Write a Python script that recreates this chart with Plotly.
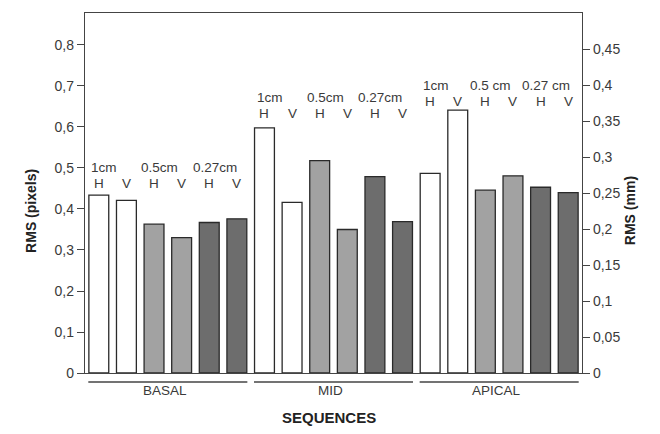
import plotly.graph_objects as go

groups = ["BASAL", "MID", "APICAL"]
size_labels = [["1cm", "0.5cm", "0.27cm"],
               ["1cm", "0.5cm", "0.27cm"],
               ["1cm", "0.5 cm", "0.27 cm"]]
directions = ["H", "V"]
rms_pixels = [0.434, 0.421, 0.363, 0.330, 0.367, 0.376,
              0.598, 0.416, 0.518, 0.350, 0.479, 0.369,
              0.487, 0.641, 0.446, 0.481, 0.453, 0.440]
left_ticks = [0, 0.1, 0.2, 0.3, 0.4, 0.5, 0.6, 0.7, 0.8]
left_ticktext = ["0", "0,1", "0,2", "0,3", "0,4", "0,5", "0,6", "0,7", "0,8"]
right_ticks = [0, 0.05, 0.1, 0.15, 0.2, 0.25, 0.3, 0.35, 0.4, 0.45]
right_ticktext = ["0", "0,05", "0,1", "0,15", "0,2", "0,25", "0,3", "0,35", "0,4", "0,45"]

fills = ["#ffffff", "#a2a2a2", "#6d6d6d"]
FONT = "Liberation Sans, Arial, sans-serif"
TXT = "#3a3a3a"

xs = list(range(len(rms_pixels)))
colors = [fills[(i % 6) // 2] for i in xs]

fig = go.Figure()
fig.add_trace(go.Bar(x=xs, y=rms_pixels, marker=dict(color=colors, line=dict(color="#2a2a2a", width=1.3)),
                     width=0.72, showlegend=False))
fig.add_trace(go.Scatter(x=[0], y=[0], yaxis="y2", mode="markers", marker=dict(opacity=0),
                         showlegend=False, hoverinfo="skip"))

annotations = []
shapes = []
label_levels = [0.461, 0.632, 0.661]
for g, name in enumerate(groups):
    base = g * 6
    lvl = label_levels[g]
    for p in range(3):
        hi = base + p * 2
        annotations.append(dict(x=hi + 0.2, y=lvl + 0.04, xref="x", yref="y", text=size_labels[g][p],
                                showarrow=False, font=dict(size=13.5, color=TXT, family=FONT)))
        for d in range(2):
            annotations.append(dict(x=hi + d, y=lvl, xref="x", yref="y", text=directions[d],
                                    showarrow=False, font=dict(size=13.5, color=TXT, family=FONT)))
    shapes.append(dict(type="line", xref="x", yref="paper", x0=base - 0.38, x1=base + 5.38,
                       y0=-0.025, y1=-0.025, line=dict(color="#444", width=1.3)))
    annotations.append(dict(x=base + 2.4, y=-0.075, xref="x", yref="paper", text=name, showarrow=False,
                            font=dict(size=13.5, color=TXT, family=FONT)))

annotations.append(dict(x=0.49, y=-0.152, xref="paper", yref="paper", text="<b>SEQUENCES</b>",
                        showarrow=False, font=dict(size=15, color="#222", family=FONT)))
annotations.append(dict(x=-0.129, y=0.45, xref="paper", yref="paper", text="<b>RMS (pixels)</b>",
                        textangle=-90, showarrow=False, font=dict(size=14, color="#222", family=FONT)))
annotations.append(dict(x=1.117, y=0.45, xref="paper", yref="paper", text="<b>RMS (mm)</b>",
                        textangle=-90, showarrow=False, font=dict(size=14, color="#222", family=FONT)))

# page body has an 8px default margin, so the figure is sized/offset to compensate
fig.update_layout(
    width=652, height=426,
    margin=dict(l=77, r=78, t=5, b=61),
    paper_bgcolor="white", plot_bgcolor="white",
    font=dict(family=FONT, size=14, color=TXT),
    xaxis=dict(range=[-0.5, 17.5], showticklabels=False, ticks="", showgrid=False, zeroline=False,
               showline=True, linecolor="#444", linewidth=1.3, mirror=True),
    yaxis=dict(range=[0, 0.878], tickvals=left_ticks, ticktext=left_ticktext, ticks="outside",
               ticklen=7, tickcolor="#444", showgrid=False, zeroline=False, showline=True,
               linecolor="#444", linewidth=1.3, tickfont=dict(size=14)),
    yaxis2=dict(range=[0, 0.5], overlaying="y", side="right", tickvals=right_ticks,
                ticktext=right_ticktext, ticks="outside", ticklen=7, tickcolor="#444",
                showgrid=False, zeroline=False, showline=True, linecolor="#444", linewidth=1.3,
                tickfont=dict(size=14)),
    annotations=annotations, shapes=shapes,
)

fig.write_html("out.html")
